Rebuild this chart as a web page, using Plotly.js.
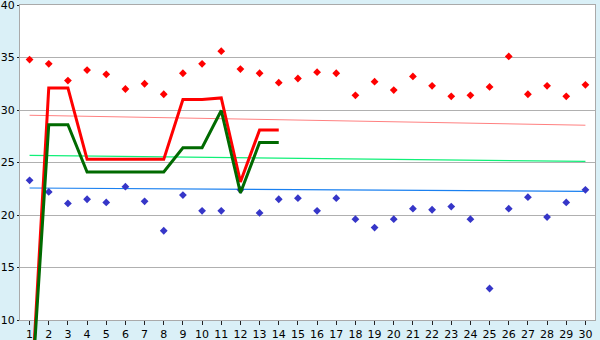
<!DOCTYPE html>
<html>
<head>
<meta charset="utf-8">
<script src="https://cdn.plot.ly/plotly-3.0.1.min.js"></script>
<style>html,body{margin:0;padding:0;background:#daf0f7;}#chart{width:600px;height:340px;}</style>
</head>
<body>
<div id="chart"></div>
<script>
// ---- data ----
var days = [1,2,3,4,5,6,7,8,9,10,11,12,13,14,15,16,17,18,19,20,21,22,23,24,25,26,27,28,29,30];
var highPoints = [34.8,34.4,32.8,33.8,33.4,32.0,32.5,31.5,33.5,34.4,35.6,33.9,33.5,32.6,33.0,33.6,33.5,31.4,32.7,31.9,33.2,32.3,31.3,31.4,32.2,35.1,31.5,32.3,31.3,32.4];
var lowPoints = [23.3,22.2,21.1,21.5,21.2,22.7,21.3,18.5,21.9,20.4,20.4,22.4,20.2,21.5,21.6,20.4,21.6,19.6,18.8,19.6,20.6,20.5,20.8,19.6,13.0,20.6,21.7,19.8,21.2,22.4];
var lineDays = [1,2,3,4,5,6,7,8,9,10,11,12,13,14];
var redLine = [0,32.1,32.1,25.3,25.3,25.3,25.3,25.3,31.0,31.0,31.15,23.15,28.1,28.1];
var greenLine = [0,28.6,28.6,24.1,24.1,24.1,24.1,24.1,26.4,26.4,29.95,22.1,26.9,26.9];
var trendDays = [1,30];
var trendRed = [29.5,28.55];
var trendGreen = [25.68,25.1];
var trendBlue = [22.57,22.25];
var yTicks = [10,15,20,25,30,35,40];

var bg = '#daf0f7';
var traces = [
  {x: trendDays, y: trendRed, mode:'lines', line:{color:'#ff8080', width:1}, xaxis:'x', yaxis:'y', hoverinfo:'skip'},
  {x: trendDays, y: trendGreen, mode:'lines', line:{color:'#10f078', width:1.2}, xaxis:'x', yaxis:'y', hoverinfo:'skip'},
  {x: trendDays, y: trendBlue, mode:'lines', line:{color:'#1a80f0', width:1.2}, xaxis:'x', yaxis:'y', hoverinfo:'skip'},
  {x: days, y: highPoints, mode:'markers', marker:{symbol:'diamond', size:6, color:'#ff0000'}, xaxis:'x', yaxis:'y'},
  {x: days, y: lowPoints, mode:'markers', marker:{symbol:'diamond', size:6, color:'#3636c8'}, xaxis:'x', yaxis:'y'},
  {x: lineDays, y: redLine, mode:'lines', line:{color:'#ff0000', width:3}, xaxis:'x2', yaxis:'y2'},
  {x: lineDays, y: greenLine, mode:'lines', line:{color:'#006a00', width:3}, xaxis:'x2', yaxis:'y2'}
];

var H = 340, T = 5, B = 0, plotBottomPx = 20;
var innerH = H - T - B;
var pxPerUnit = (innerH - plotBottomPx) / 30;

var layout = {
  width: 600, height: 340,
  margin: {l:20, r:5, t:T, b:B, pad:0},
  paper_bgcolor: bg, plot_bgcolor: 'rgba(0,0,0,0)',
  showlegend: false,
  font: {family:'DejaVu Sans, Verdana, sans-serif', color:'#000'},
  xaxis: {
    domain:[0,1], anchor:'y', range:[0.5,30.5],
    tickmode:'array', tickvals: days, ticktext: days.map(String),
    showgrid:false, zeroline:false,
    showline:true, linecolor:'#aaaaaa', linewidth:1, mirror:true,
    ticks:'outside', ticklen:4, tickcolor:'#222', tickwidth:1,
    ticklabeloverflow:'allow',
    tickfont:{size:11, family:'DejaVu Sans, sans-serif', color:'#000'}
  },
  yaxis: {
    domain:[plotBottomPx/innerH, 1], anchor:'x', range:[10,40],
    tickmode:'array', tickvals: yTicks,
    showgrid:true, gridcolor:'#b0b0b0', gridwidth:1, zeroline:false,
    showline:true, linecolor:'#aaaaaa', linewidth:1, mirror:true,
    ticks:'outside', ticklen:2, tickcolor:'#222',
    ticklabeloverflow:'allow',
    tickfont:{size:11, family:'DejaVu Sans, sans-serif', color:'#000'}
  },
  xaxis2: {domain:[0,1], anchor:'y2', range:[0.5,30.5], visible:false, fixedrange:true},
  yaxis2: {domain:[0,1], anchor:'x2', range:[10 - plotBottomPx/pxPerUnit, 40], visible:false, fixedrange:true},
  shapes: [
    {type:'rect', xref:'x domain', yref:'y domain', x0:0, x1:1, y0:0, y1:1,
     fillcolor:'#ffffff', line:{width:0}, layer:'below'}
  ]
};

Plotly.newPlot('chart', traces, layout, {displayModeBar:false, staticPlot:true});
</script>
</body>
</html>
